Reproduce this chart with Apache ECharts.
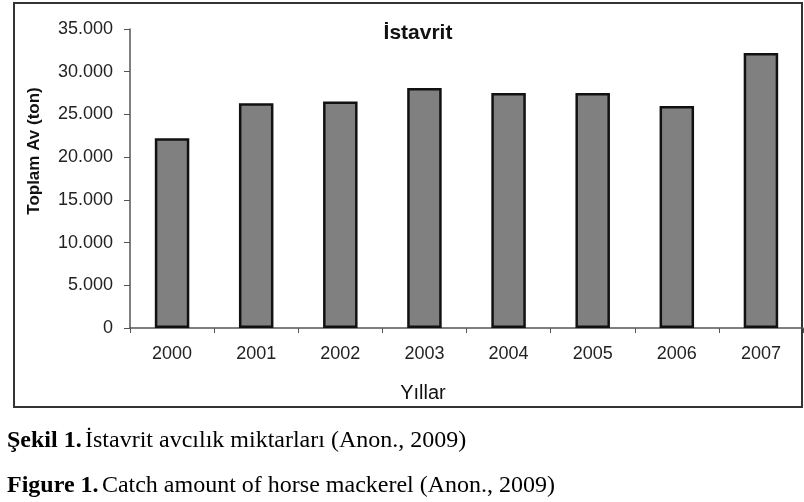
<!DOCTYPE html>
<html><head><meta charset="utf-8">
<script src="https://cdn.jsdelivr.net/npm/echarts@6/dist/echarts.min.js"></script>
<style>html,body{margin:0;padding:0;background:#fff}#c{width:804px;height:502px}</style>
</head><body><div id="c"></div>
<script>
var categories = ['2000','2001','2002','2003','2004','2005','2006','2007'];
var catchValues = [22200, 26300, 26500, 28100, 27500, 27500, 26000, 32200];
var yTicks = [0, 5000, 10000, 15000, 20000, 25000, 30000, 35000];
var titleText = 'İstavrit';
var yName = 'Toplam Av (ton)';
var xName = 'Yıllar';

var chart = echarts.init(document.getElementById('c'), null, {renderer:'canvas'});
function fmt(v){ if(v===0) return '0'; var s=String(v); return s.slice(0,s.length-3)+'.'+s.slice(-3); }
chart.setOption({
  animation:false,
  grid:{left:130, right:1, top:29, bottom:174},
  title:{text:titleText, left:413, top:18, textAlign:'center',
    textStyle:{fontFamily:'Liberation Sans', fontWeight:'bold', fontSize:21, color:'#111'}},
  xAxis:{type:'category', data:categories,
    axisLine:{lineStyle:{color:'#555', width:1.5}},
    axisTick:{show:true, length:5, lineStyle:{color:'#555'}},
    axisLabel:{fontFamily:'Liberation Sans', fontSize:18, color:'#222', margin:17}},
  yAxis:{type:'value', min:0, max:35000, interval:5000,
    axisLine:{show:true, lineStyle:{color:'#555', width:1.5}},
    axisTick:{show:true, length:6, lineStyle:{color:'#555'}},
    splitLine:{show:false},
    axisLabel:{fontFamily:'Liberation Sans', fontSize:18, color:'#222', margin:17, formatter:fmt}},
  series:[{type:'bar', data:catchValues, barWidth:'41%',
    itemStyle:{color:'#808080', borderColor:'#111', borderWidth:2.5}}],
  graphic:[
    {type:'rect', shape:{x:14, y:3, width:788, height:404}, style:{fill:'none', stroke:'#333', lineWidth:2}, z:-1},
    {type:'text', x:34, y:151, rotation:Math.PI/2, style:{text:yName, fontFamily:'Liberation Sans', fontWeight:'bold', fontSize:17, fill:'#111', align:'center', verticalAlign:'middle'}},
    {type:'text', x:423, y:393, style:{text:xName, fontFamily:'Liberation Sans', fontSize:20, fill:'#111', align:'center', verticalAlign:'middle'}},
    {type:'text', x:7, y:441, style:{rich:{b:{fontFamily:'Liberation Serif', fontWeight:'bold', fontSize:24, fill:'#000'}, n:{fontFamily:'Liberation Serif', fontSize:24, fill:'#000'}}, text:'{b|Şekil 1.} {n|İstavrit avcılık miktarları (Anon., 2009)}', verticalAlign:'middle'}},
    {type:'text', x:7, y:486, style:{rich:{b:{fontFamily:'Liberation Serif', fontWeight:'bold', fontSize:24, fill:'#000'}, n:{fontFamily:'Liberation Serif', fontSize:24, fill:'#000'}}, text:'{b|Figure 1.} {n|Catch amount of horse mackerel (Anon., 2009)}', verticalAlign:'middle'}}
  ]
});
</script></body></html>
